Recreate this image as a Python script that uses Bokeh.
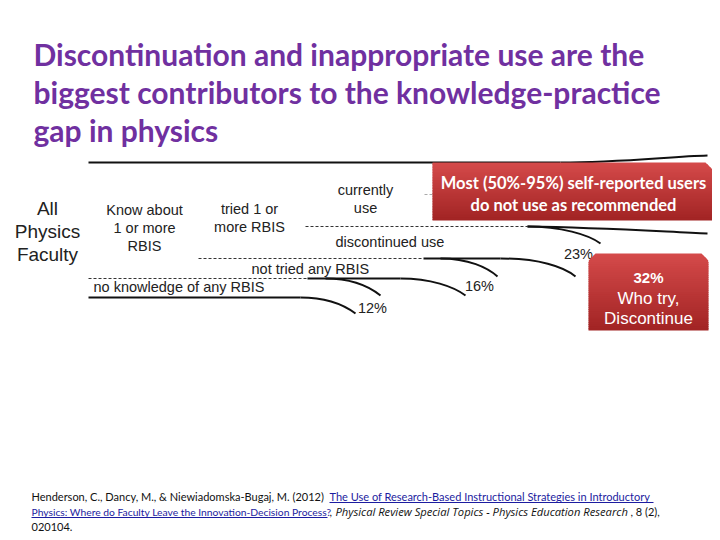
from bokeh.plotting import figure
from bokeh.models import Range1d
from bokeh.core.properties import value
from bokeh.embed import file_html
from bokeh.resources import INLINE

# ---------------- content / data ----------------
TITLE_LINES = [
    "Discontinuation and inappropriate use are the",
    "biggest contributors to the knowledge-practice",
    "gap in physics",
]
ROOT_LABEL = ["All", "Physics", "Faculty"]
STAGE_KNOW = ["Know about", "1 or more", "RBIS"]
STAGE_TRIED = ["tried 1 or", "more RBIS"]
STAGE_CURRENT = ["currently", "use"]
EXIT_LABELS = ["no knowledge of any RBIS", "not tried any RBIS", "discontinued use"]
EXIT_PCT = [12, 16, 23]
CALLOUT_1 = ["Most (50%-95%) self-reported users", "do not use as recommended"]
CALLOUT_2_PCT = 32
CALLOUT_2 = ["Who try,", "Discontinue"]
CITE_AUTH = "Henderson, C., Dancy, M., & Niewiadomska-Bugaj, M. (2012) "
CITE_LINK_1 = "The Use of Research-Based Instructional Strategies in Introductory"
CITE_LINK_2 = "Physics: Where do Faculty Leave the Innovation-Decision Process?"
CITE_JOURNAL = "Physical Review Special Topics - Physics Education Research"
CITE_VOL = ", 8 (2),"
CITE_END = "020104."

# ---------------- figure (data units == picture pixels) ----------------
W, H = 712, 532
p = figure(width=W, height=H, x_range=Range1d(0, W), y_range=Range1d(H, 0),
           output_backend="svg", toolbar_location=None, min_border=0,
           x_axis_location=None, y_axis_location=None)
p.grid.visible = False
p.outline_line_color = None
p.background_fill_color = "white"

SANS = value("Liberation Sans")
LATO = value("Lato")

# Title
p.text(x=[33, 33, 33], y=[53, 91, 129], text=TITLE_LINES, text_font=LATO,
       text_font_size="30px", text_font_style="bold", text_color="#7030A0",
       text_baseline="alphabetic", text_align="left")

# ---------------- pipeline lines ----------------
BLACK = "#111111"
# top boundary line
p.line(x=[88, 560], y=[162, 162], line_color=BLACK, line_width=2)
p.bezier(x0=[560], y0=[162], x1=[707], y1=[155], cx0=[620], cy0=[162], cx1=[670], cy1=[156],
         line_color=BLACK, line_width=2)
# bottom boundary line and its exit curve (12%)
p.line(x=[88, 300], y=[297, 297], line_color=BLACK, line_width=2)
p.bezier(x0=[300], y0=[297], x1=[355], y1=[313], cx0=[325], cy0=[297], cx1=[343], cy1=[304],
         line_color=BLACK, line_width=2)

# dashed separators
p.line(x=[88, 307], y=[278, 278], line_color="#333333", line_width=1, line_dash="3 2")
p.line(x=[198, 423], y=[258, 258], line_color="#333333", line_width=1, line_dash="3 2")
p.line(x=[305, 527], y=[226, 226], line_color="#333333", line_width=1, line_dash="3 2")
p.line(x=[424, 432], y=[194, 194], line_color="#aaaaaa", line_width=1, line_dash="3 2")

# level y=278 : two curves
p.line(x=[307, 400], y=[278, 278], line_color=BLACK, line_width=2)
p.bezier(x0=[325, 400], y0=[278, 278], x1=[380, 465], y1=[295, 295],
         cx0=[352, 430], cy0=[278, 278], cx1=[370, 453], cy1=[287, 286],
         line_color=BLACK, line_width=2)
# level y=258 : two curves
p.line(x=[423, 500], y=[258, 258], line_color=BLACK, line_width=2)
p.bezier(x0=[440, 500], y0=[258, 258], x1=[497, 575], y1=[276, 276],
         cx0=[468, 538], cy0=[258, 258], cx1=[487, 563], cy1=[267, 266],
         line_color=BLACK, line_width=2)
# level y=226 : curve and continuing line
p.bezier(x0=[527, 527], y0=[226, 226], x1=[600, 707], y1=[243, 233],
         cx0=[560, 600], cy0=[226, 227], cx1=[588, 660], cy1=[234, 231],
         line_color=BLACK, line_width=2)

# ---------------- labels ----------------
p.text(x=[47] * 3, y=[208, 231, 254], text=ROOT_LABEL, text_font=SANS, text_font_size="19px",
       text_color="#222222", text_align="center", text_baseline="middle")
p.text(x=[144] * 3, y=[209, 227, 245], text=STAGE_KNOW, text_font=SANS, text_font_size="14.5px",
       text_color="#222222", text_align="center", text_baseline="middle")
p.text(x=[249] * 2, y=[208, 226], text=STAGE_TRIED, text_font=SANS, text_font_size="14.5px",
       text_color="#222222", text_align="center", text_baseline="middle")
p.text(x=[365] * 2, y=[189, 207], text=STAGE_CURRENT, text_font=SANS, text_font_size="14.5px",
       text_color="#222222", text_align="center", text_baseline="middle")
p.text(x=[93, 251, 335], y=[286, 268, 241], text=EXIT_LABELS, text_font=SANS,
       text_font_size="14.5px", text_color="#222222", text_align="left", text_baseline="middle")
p.text(x=[372, 479, 578], y=[307, 285, 253], text=[f"{v}%" for v in EXIT_PCT], text_font=SANS,
       text_font_size="14.5px", text_color="#222222", text_align="center", text_baseline="middle")


# ---------------- gradient callout boxes ----------------
def hexmix(c0, c1, t):
    a = [int(c0[i:i + 2], 16) for i in (1, 3, 5)]
    b = [int(c1[i:i + 2], 16) for i in (1, 3, 5)]
    return "#%02x%02x%02x" % tuple(round(a[k] + (b[k] - a[k]) * t) for k in range(3))


def grad_box(x0, x1, y0, y1, cut_tl, cut_tr, top_col, bot_col, n=36):
    def left(y):
        return x0 + max(0.0, cut_tl - (y - y0))

    def right(y):
        return x1 - max(0.0, cut_tr - (y - y0))

    xs, ys, cols = [], [], []
    h = (y1 - y0) / n
    for i in range(n):
        ya = y0 + i * h
        yb = min(y1, ya + h + 0.8)
        xs.append([left(ya), right(ya), right(yb), left(yb)])
        ys.append([ya, ya, yb, yb])
        cols.append(hexmix(top_col, bot_col, i / (n - 1)))
    p.patches(xs=xs, ys=ys, fill_color=cols, line_color=None)


grad_box(432, 713, 162, 220, 0, 8, "#d44a4a", "#a22424")
grad_box(588, 708, 253, 330, 7, 7, "#d44a4a", "#a22424")

p.text(x=[573, 573], y=[182, 204], text=CALLOUT_1, text_font=LATO, text_font_size="16.5px",
       text_font_style="bold", text_color="white", text_align="center", text_baseline="middle")
p.text(x=[648], y=[277], text=[f"{CALLOUT_2_PCT}%"], text_font=SANS, text_font_size="15px",
       text_font_style="bold", text_color="white", text_align="center", text_baseline="middle")
p.text(x=[648, 648], y=[298, 318], text=CALLOUT_2, text_font=SANS, text_font_size="17px",
       text_color="white", text_align="center", text_baseline="middle")

# ---------------- citation ----------------
LINK = "#1c1ca0"
p.text(x=[31], y=[496], text=[CITE_AUTH], text_font=LATO, text_font_size="11px",
       text_color="#111111", text_baseline="middle")
p.text(x=[329], y=[496], text=[CITE_LINK_1], text_font=LATO,
       text_font_size="11px", text_color=LINK, text_baseline="middle")
p.text(x=[31], y=[511], text=[CITE_LINK_2], text_font=LATO,
       text_font_size="10.3px", text_color=LINK, text_baseline="middle")
p.segment(x0=[329, 31], y0=[502, 517], x1=[653, 327], y1=[502, 517], line_color=LINK, line_width=1)
p.text(x=[329], y=[511], text=[","], text_font=LATO, text_font_size="11px", text_color="#111111",
       text_baseline="middle")
p.text(x=[335], y=[511], text=[CITE_JOURNAL], text_font=value("Open Sans"), text_font_size="11.2px",
       text_font_style="italic", text_color="#111111", text_baseline="middle")
p.text(x=[630, 31], y=[511, 526], text=[CITE_VOL, CITE_END], text_font=LATO, text_font_size="11px",
       text_color="#111111", text_baseline="middle")

open("out.html", "w").write(file_html(p, INLINE))
